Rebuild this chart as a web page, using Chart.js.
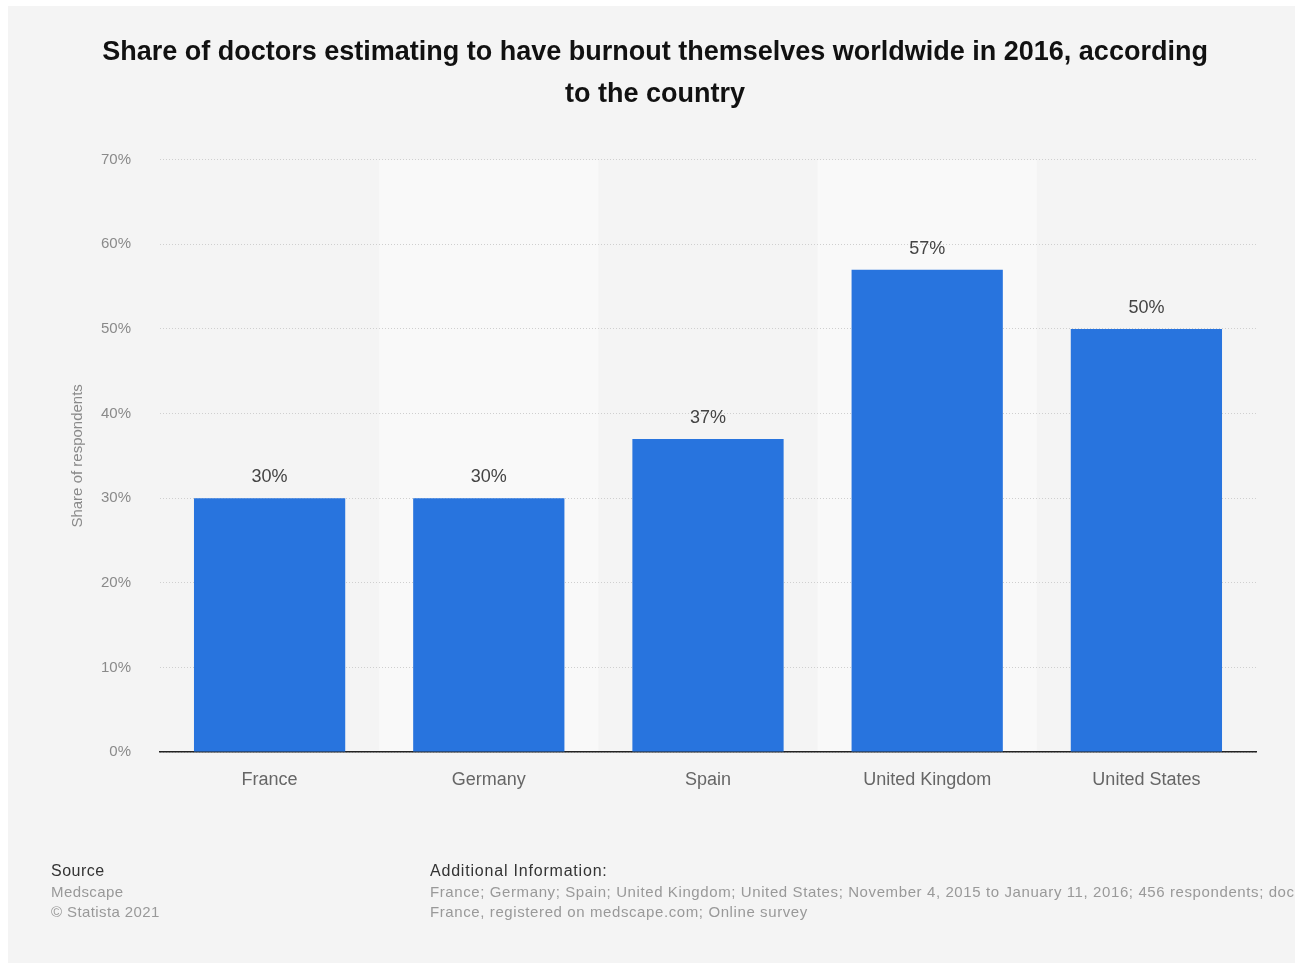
<!DOCTYPE html>
<html>
<head>
<meta charset="utf-8">
<script src="https://cdn.jsdelivr.net/npm/chart.js@4"></script>
<style>
  html, body { margin: 0; padding: 0; background: #fff; }
  #wrap { width: 1295px; height: 965px; }
</style>
</head>
<body>
<div id="wrap"><canvas id="burnoutChart" width="1295" height="965"></canvas></div>
<script>
// Burnout share by country (Medscape, 2016)
const countries = ['France', 'Germany', 'Spain', 'United Kingdom', 'United States'];
const burnoutShare = [30, 30, 37, 57, 50];
const yTicks = [0, 10, 20, 30, 40, 50, 60, 70];

const titleLines = [
  'Share of doctors estimating to have burnout themselves worldwide in 2016, according',
  'to the country'
];
const sourceLines = ['Medscape', '\u00A9 Statista 2021'];
const infoLines = [
  'France; Germany; Spain; United Kingdom; United States; November 4, 2015 to January 11, 2016; 456 respondents; doctors in',
  'France, registered on medscape.com; Online survey'
];

const FONT = '"Liberation Sans", Arial, Helvetica, sans-serif';

// grey card + alternating column stripes
const backdrop = {
  id: 'backdrop',
  beforeDraw(chart) {
    const ctx = chart.ctx;
    const area = chart.chartArea;
    const x = chart.scales.x;
    ctx.save();
    ctx.fillStyle = '#f4f4f4';
    ctx.fillRect(8, 6, chart.width - 8, 957);
    const band = (area.right - area.left) / countries.length;
    ctx.fillStyle = '#f9f9f9';
    countries.forEach((c, i) => {
      if (i % 2 === 1) {
        const cx = x.getPixelForValue(i);
        ctx.fillRect(cx - band / 2, area.top, band, area.bottom - area.top);
      }
    });
    ctx.restore();
  }
};

// value labels above the bars
const valueLabels = {
  id: 'valueLabels',
  afterDatasetsDraw(chart) {
    const ctx = chart.ctx;
    const meta = chart.getDatasetMeta(0);
    ctx.save();
    ctx.font = '18px ' + FONT;
    ctx.fillStyle = '#444';
    ctx.textAlign = 'center';
    ctx.textBaseline = 'middle';
    meta.data.forEach((bar, i) => {
      ctx.fillText(burnoutShare[i] + '%', bar.x, bar.y - 21);
    });
    ctx.restore();
  }
};

// source / additional information block
const footer = {
  id: 'footer',
  afterDraw(chart) {
    const ctx = chart.ctx;
    ctx.save();
    ctx.textBaseline = 'middle';
    ctx.textAlign = 'left';
    ctx.font = '16px ' + FONT;
    ctx.fillStyle = '#333';
    ctx.letterSpacing = '0.5px';
    ctx.fillText('Source', 51, 872);
    ctx.letterSpacing = '0.8px';
    ctx.fillText('Additional Information:', 430, 872);
    ctx.font = '15px ' + FONT;
    ctx.fillStyle = '#999';
    ctx.letterSpacing = '0.4px';
    sourceLines.forEach((t, i) => ctx.fillText(t, 51, 893 + i * 20));
    ctx.letterSpacing = '0.6px';
    infoLines.forEach((t, i) => ctx.fillText(t, 430, 893 + i * 20));
    ctx.restore();
  }
};

new Chart(document.getElementById('burnoutChart'), {
  type: 'bar',
  data: {
    labels: countries,
    datasets: [{
      data: burnoutShare,
      backgroundColor: '#2874de',
      barPercentage: 0.69,
      categoryPercentage: 1
    }]
  },
  options: {
    responsive: false,
    animation: false,
    layout: { padding: { left: 54, right: 39, top: 6, bottom: 173 } },
    plugins: {
      legend: { display: false },
      tooltip: { enabled: false },
      title: {
        display: true,
        text: titleLines,
        color: '#111',
        font: { family: FONT, size: 27, weight: 'bold', lineHeight: 1.55 },
        padding: { top: 26, bottom: 44 }
      }
    },
    scales: {
      x: {
        grid: { display: false, drawTicks: false },
        border: { display: true, color: '#222', width: 1.5 },
        ticks: { color: '#666', font: { family: FONT, size: 18 }, padding: 17 },
        afterFit(scale) { scale.height = 40; }
      },
      y: {
        min: 0,
        max: 70,
        afterBuildTicks(scale) { scale.ticks = yTicks.map(v => ({ value: v })); },
        grid: { color: '#cfcfcf', drawTicks: false },
        border: { display: false, dash: [1, 2] },
        ticks: {
          color: '#8a8a8a',
          font: { family: FONT, size: 15 },
          padding: 29,
          callback: v => v + '%'
        },
        title: {
          display: true,
          text: 'Share of respondents',
          color: '#8a8a8a',
          font: { family: FONT, size: 15 },
          padding: { top: 15, bottom: 0 }
        },
        afterFit(scale) { scale.width = 106; }
      }
    }
  },
  plugins: [backdrop, valueLabels, footer]
});
</script>
</body>
</html>
